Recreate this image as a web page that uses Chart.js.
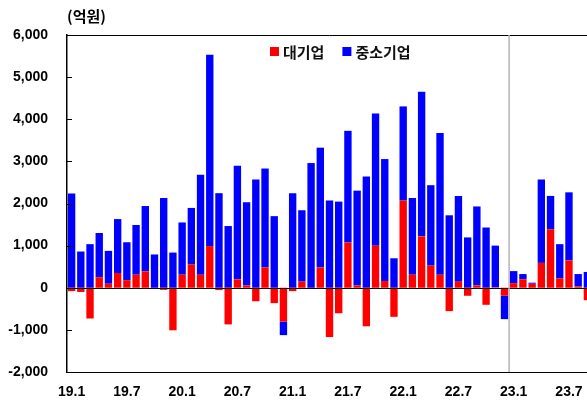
<!DOCTYPE html>
<html>
<head>
<meta charset="utf-8">
<script src="https://cdn.jsdelivr.net/npm/chart.js@4"></script>
<style>
html,body{margin:0;padding:0;background:#fff;overflow:hidden}
#wrap{width:600px;height:401px}
</style>
</head>
<body>
<div id="wrap"><canvas id="loanChart" width="600" height="401"></canvas></div>
<script>

// months 19.1 ~ 23.9
const months = [
"19.1","19.2","19.3","19.4","19.5","19.6","19.7","19.8","19.9","19.10","19.11","19.12",
"20.1","20.2","20.3","20.4","20.5","20.6","20.7","20.8","20.9","20.10","20.11","20.12",
"21.1","21.2","21.3","21.4","21.5","21.6","21.7","21.8","21.9","21.10","21.11","21.12",
"22.1","22.2","22.3","22.4","22.5","22.6","22.7","22.8","22.9","22.10","22.11","22.12",
"23.1","23.2","23.3","23.4","23.5","23.6","23.7","23.8","23.9"
]

// 대기업 (억원)
const large = [
-80,-100,-730,250,95,350,180,310,390,-30,-50,-1010,
310,550,310,990,-55,-870,200,55,-320,485,-365,-805,
-80,145,-15,485,-1170,-605,1075,55,-915,1000,160,-690,
2070,310,1220,525,310,-555,145,-190,55,-405,10,-190,
110,200,95,590,1390,225,650,30,-295
]

// 중소기업 (억원)
const sme = [
2240,860,1035,1050,780,1280,900,1180,1550,790,2130,835,
1240,1345,2370,4540,2245,1465,2695,1975,2570,2345,1700,-320,
2245,1695,2960,2840,2070,2045,2650,2250,2640,3135,2895,700,
2235,1820,3435,1910,3365,1720,2035,1195,1875,1430,990,-555,
285,125,25,1980,790,810,1615,295,375
]

const yTicks = [-2000,-1000,0,1000,2000,3000,4000,5000,6000]

const numFont = {family:"'Liberation Sans', Arial, sans-serif", size:14, weight:"bold"}
const korFont = "'Noto Sans CJK KR', sans-serif"

// zero line, inward ticks, top border, 2023 separator, legend
const extras = {
id:"extras",
afterDatasetsDraw(chart){
const c = chart.ctx
const a = chart.chartArea
const y = chart.scales.y
const x = chart.scales.x

c.save()
c.strokeStyle = "#000"
c.lineWidth = 1

let y0 = Math.round(y.getPixelForValue(0)) + 0.5
c.beginPath()
c.moveTo(a.left, y0)
c.lineTo(a.right, y0)
c.stroke()

c.beginPath()
c.moveTo(a.left, a.top + 0.5)
c.lineTo(a.right, a.top + 0.5)
c.stroke()

yTicks.forEach(v=>{
let py = Math.round(y.getPixelForValue(v)) + 0.5
c.beginPath()
c.moveTo(a.left, py)
c.lineTo(a.left + 5, py)
c.stroke()
})

let sep = (x.getPixelForValue(47) + x.getPixelForValue(48)) / 2
c.strokeStyle = "#b4b4b4"
c.lineWidth = 1.5
c.beginPath()
c.moveTo(sep, a.top)
c.lineTo(sep, a.bottom)
c.stroke()

// legend
c.font = "bold 15px " + korFont
c.textBaseline = "middle"
let lx = 270
chart.data.datasets.forEach(ds=>{
c.fillStyle = ds.backgroundColor
c.fillRect(lx, 47, 9, 9)
c.fillStyle = "#111"
c.fillText(ds.label, lx + 13, 52)
lx += 13 + c.measureText(ds.label).width + 18
})

c.restore()
}
}

const ctx = document.getElementById("loanChart")

new Chart(ctx, {
type:"bar",
data:{
labels:months,
datasets:[
{label:"대기업", data:large, backgroundColor:"#ff0000", borderWidth:0},
{label:"중소기업", data:sme, backgroundColor:"#0000ff", borderWidth:0}
]
},
options:{
responsive:false,
animation:false,
layout:{padding:{left:0, right:8, top:0, bottom:0}},
datasets:{bar:{barPercentage:1, categoryPercentage:0.8}},
plugins:{
legend:{display:false},
tooltip:{enabled:false},
title:{
display:true,
text:"(억원)",
align:"start",
fullSize:false,
color:"#000",
font:{family:korFont, size:15, weight:"bold"},
padding:{top:7, bottom:10}
}
},
scales:{
x:{
stacked:true,
grid:{display:false, drawTicks:false},
border:{display:true, color:"#000", width:1},
ticks:{
autoSkip:false,
maxRotation:0,
color:"#000",
font:numFont,
padding:12,
callback:(v,i)=> i % 6 === 0 ? months[i] : ""
},
afterFit:s=>{ s.height = 29 }
},
y:{
stacked:true,
min:-2000,
max:6000,
grid:{display:false, drawTicks:false},
border:{display:true, color:"#000", width:1.5},
ticks:{
stepSize:1000,
color:"#000",
font:numFont,
padding:19,
callback:v=> v.toLocaleString("en-US")
},
afterFit:s=>{ s.width = 67 }
}
}
},
plugins:[extras]
})

</script>
</body>
</html>
